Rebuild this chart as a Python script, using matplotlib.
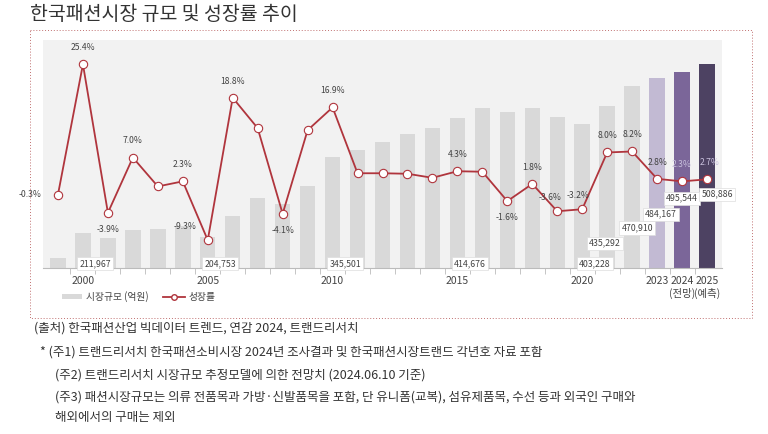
import matplotlib
matplotlib.use("Agg")
import matplotlib.pyplot as plt
from matplotlib.patches import Rectangle

plt.rcParams["font.family"] = "Noto Sans CJK KR"

years = list(range(1999, 2026))
market = [168000, 211967, 203700, 217000, 219000, 224000, 204753, 242000, 273000,
          263000, 294600, 345501, 358000, 372000, 386000, 396500, 414676, 431600,
          424600, 431600, 416000, 403228, 435292, 470910, 484167, 495544, 508886]
growth = [-0.3, 25.4, -3.9, 7.0, 1.3, 2.3, -9.3, 18.8, 12.8, -4.1, 12.4, 16.9, 3.9,
          3.9, 3.8, 3.0, 4.3, 4.2, -1.6, 1.8, -3.6, -3.2, 8.0, 8.2, 2.8, 2.3, 2.7]
xtick_years = [2000, 2005, 2010, 2015, 2020, 2023, 2024, 2025]
xtick_labels = ["2000", "2005", "2010", "2015", "2020", "2023", "2024\n(전망)", "2025\n(예측)"]
# growth labels shown: year -> (dx, dy offset in points)
growth_labels = {1999: (-20, 0), 2000: (0, 12), 2001: (0, -12), 2002: (0, 12),
                 2004: (0, 12), 2005: (-16, 10), 2006: (0, 12), 2008: (0, -12),
                 2010: (0, 12), 2015: (0, 12), 2017: (0, -12), 2018: (0, 12),
                 2020: (-3, 10), 2019: (-5, 10), 2021: (0, 12), 2022: (0, 12),
                 2023: (0, 12), 2024: (0, 12), 2025: (2, 12)}
# value label anchor: year -> (x, y) in data units
value_labels = {2000: (2000.5, 158000), 2005: (2005.5, 158000), 2010: (2010.5, 158000),
                2015: (2015.5, 158000), 2020: (2020.5, 158000), 2021: (2020.9, 194000),
                2022: (2022.2, 221000), 2023: (2023.15, 245000), 2024: (2024.0, 273000),
                2025: (2025.4, 280000)}

W, H = 768, 434
fig = plt.figure(figsize=(W / 100, H / 100), dpi=100)

def px(x0, y0, x1, y1):
    return [x0 / W, 1 - y1 / H, (x1 - x0) / W, (y1 - y0) / H]

fig.text(30 / W, 1 - 14 / H, "한국패션시장 규모 및 성장률 추이", fontsize=14,
         fontweight="medium", va="center", color="#333333")

# dotted border boxes
frame = fig.add_axes([0, 0, 1, 1], zorder=-5)
frame.set_xlim(0, W); frame.set_ylim(H, 0); frame.axis("off")
frame.add_patch(Rectangle((30, 30), 722, 288, fill=False, ls=(0, (1, 2)), lw=0.7, ec="#c07070"))
frame.add_patch(Rectangle((43, 40), 679, 228, fc="#f2f2f2", ec="none"))

ax = fig.add_axes(px(43, 40, 722, 268))
ax.set_facecolor("none")
bar_colors = ["#d9d9d9"] * (len(years) - 3) + ["#c2bad3", "#7b6699", "#4d4262"]
ax.bar(years, market, width=0.62, color=bar_colors, zorder=1)
ax.set_xlim(1998.4, 2025.6)
ax.set_ylim(150500, 551000)
ax.set_yticks([])
for s in ["top", "right", "left"]:
    ax.spines[s].set_visible(False)
ax.spines["bottom"].set_color("#bbbbbb")
ax.set_xticks(xtick_years)
ax.set_xticklabels(xtick_labels, fontsize=7.5, color="#444444", va="top")
ax.set_xticks([y + 0.5 for y in years[:-1]], minor=True)
ax.tick_params(axis="x", which="major", length=0, pad=6)
ax.tick_params(axis="x", which="minor", length=4, color="#bbbbbb")
for yr, (lx, ly) in value_labels.items():
    v = market[years.index(yr)]
    ax.text(lx, ly, f"{v:,}", fontsize=6.3, color="#444444",
            ha="center", va="center", zorder=4,
            bbox=dict(boxstyle="square,pad=0.25", fc="white", ec="#dddddd", lw=0.5))

ax2 = ax.twinx()
ax2.set_ylim(-14.8, 30.2)
ax2.axis("off")
ax2.plot(years, growth, color="#b0353d", lw=1.3, marker="o", ms=6,
         mfc="white", mec="#b0353d", mew=0.8, zorder=3)
for yr, (dx, dy) in growth_labels.items():
    g = growth[years.index(yr)]
    col = "#c8c0dc" if yr in (2024, 2025) else "#444444"
    ax2.annotate(f"{g:.1f}%", (yr, g), xytext=(dx, dy), textcoords="offset points",
                 fontsize=6.2, color=col, ha="center", va="center", zorder=5)

# legend
frame.add_patch(Rectangle((62, 294), 20, 5, fc="#d9d9d9", ec="none"))
frame.text(86, 297, "시장규모 (억원)", fontsize=7, va="center", color="#444444")
frame.plot([163, 185], [297, 297], color="#b0353d", lw=1.3)
frame.plot([174], [297], marker="o", ms=4, mfc="white", mec="#b0353d")
frame.text(189, 297, "성장률", fontsize=7, va="center", color="#444444")

notes = [
    (34, 328, "(출처) 한국패션산업 빅데이터 트렌드, 연감 2024, 트랜드리서치"),
    (40, 352, "* (주1) 트랜드리서치 한국패션소비시장 2024년 조사결과 및 한국패션시장트랜드 각년호 자료 포함"),
    (55, 375, "(주2) 트랜드리서치 시장규모 추정모델에 의한 전망치 (2024.06.10 기준)"),
    (55, 397, "(주3) 패션시장규모는 의류 전품목과 가방·신발품목을 포함, 단 유니폼(교복), 섬유제품목, 수선 등과 외국인 구매와"),
    (55, 417, "해외에서의 구매는 제외"),
]
for x, y, t in notes:
    frame.text(x, y, t, fontsize=9, va="center", color="#333333")

fig.savefig("out.png", dpi=100)
